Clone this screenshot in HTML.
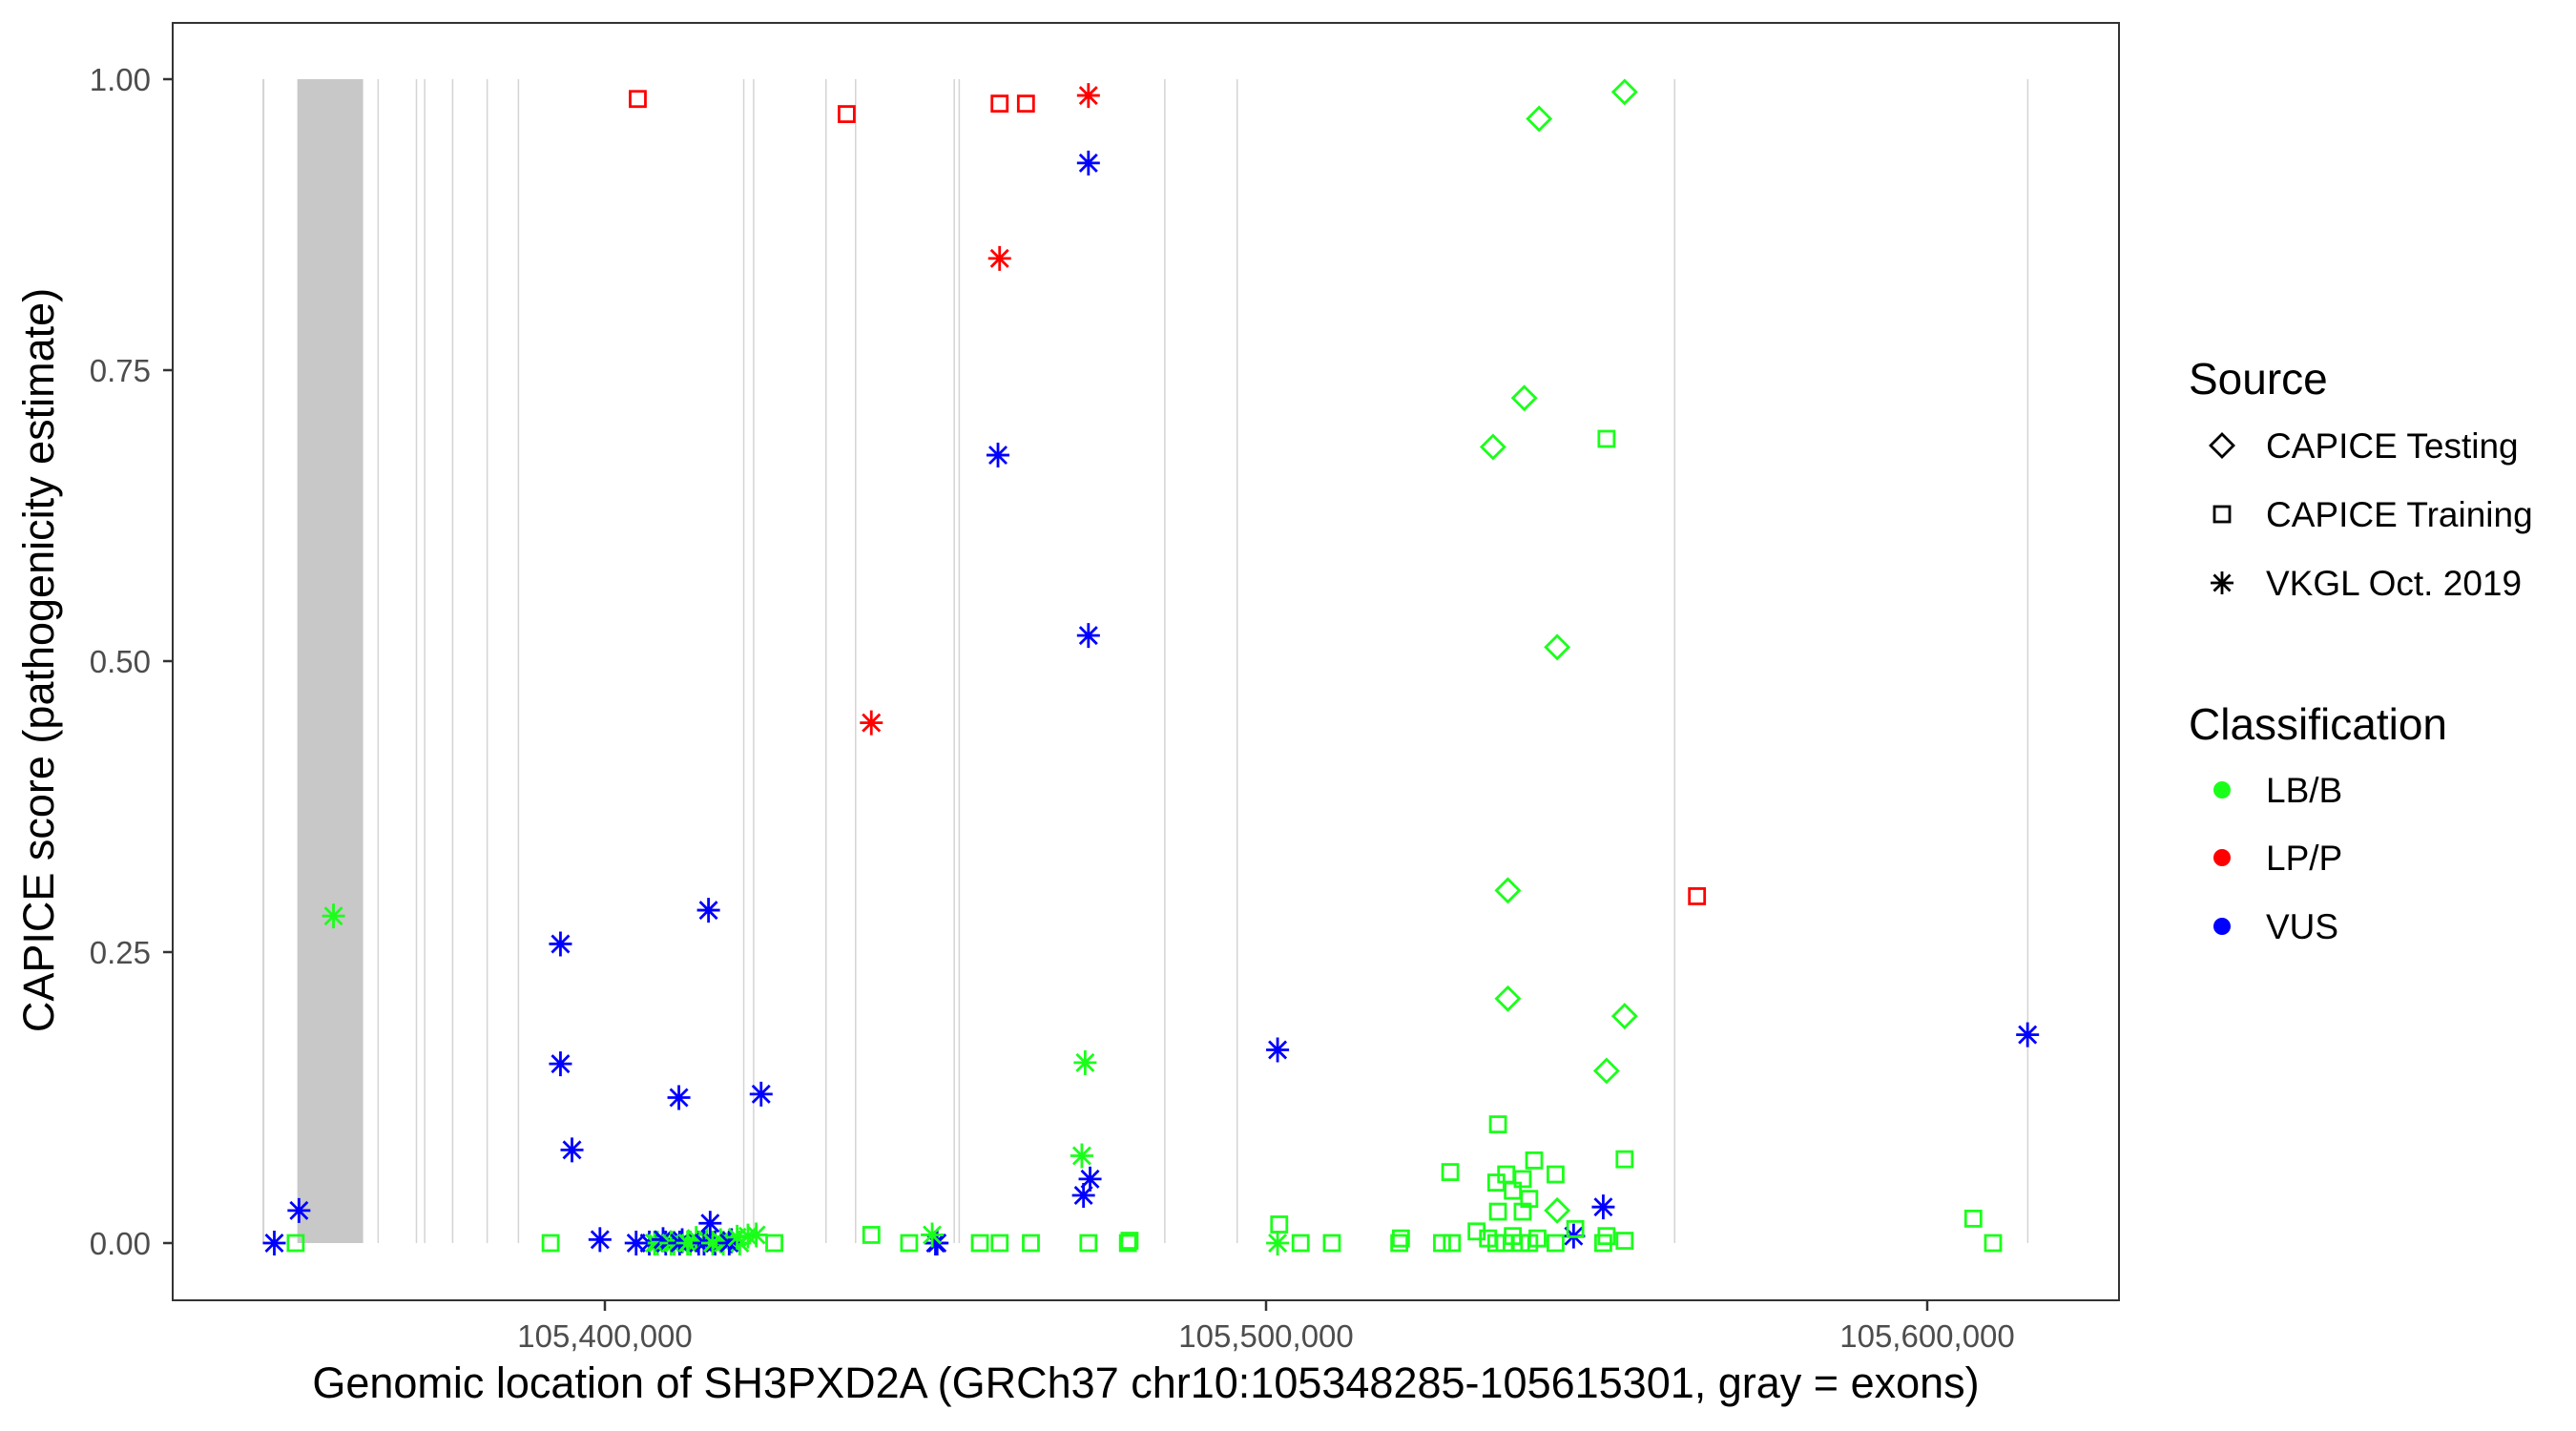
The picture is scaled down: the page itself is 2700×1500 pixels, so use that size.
<!DOCTYPE html>
<html><head><meta charset="utf-8"><style>
html,body{margin:0;padding:0;background:#fff;}
svg{display:block;font-family:"Liberation Sans",sans-serif;}
</style></head><body>
<svg id="chart" width="2700" height="1500" xmlns="http://www.w3.org/2000/svg">
<rect x="0" y="0" width="2700" height="1500" fill="#fff"/>
<g id="exons"></g>
<g id="points"></g>
<rect x="181" y="24" width="2040" height="1339" fill="none" stroke="#333" stroke-width="2"/>
<g id="yaxis"></g>
<g id="xaxis"></g>
<text transform="translate(56,692) rotate(-90)" text-anchor="middle" font-size="45" fill="#000">CAPICE score (pathogenicity estimate)</text>
<text x="1201" y="1465" text-anchor="middle" font-size="45" fill="#000">Genomic location of SH3PXD2A (GRCh37 chr10:105348285-105615301, gray = exons)</text>
<g id="legend">
<text x="2294" y="413" font-size="46">Source</text>
<g><path d="M2329,455 l12,12 l-12,12 l-12,-12z" fill="none" stroke="#000" stroke-width="2.8"/><text x="2375" y="480" font-size="37">CAPICE Testing</text></g>
<g><rect x="2321" y="531" width="16" height="16" fill="none" stroke="#000" stroke-width="2.8"/><text x="2375" y="552" font-size="37">CAPICE Training</text></g>
<g><path d="M2329,599 v24 M2317,611 h24 M2320.5,602.5 l17,17 M2337.5,602.5 l-17,17" stroke="#000" stroke-width="2.8"/><text x="2375" y="624" font-size="37">VKGL Oct. 2019</text></g>
<text x="2294" y="775" font-size="46">Classification</text>
<g><circle cx="2329" cy="828" r="9" fill="#1aff1a"/><text x="2375" y="841" font-size="37">LB/B</text></g>
<g><circle cx="2329" cy="899" r="9" fill="#ff0000"/><text x="2375" y="912" font-size="37">LP/P</text></g>
<g><circle cx="2329" cy="971" r="9" fill="#0000ff"/><text x="2375" y="984" font-size="37">VUS</text></g>
</g>
</svg>
<script>
const exonStart=[105348200,105353483,105365600,105371393,105372637,105376866,105382090,105386816,105420896,105422388,105433333,105437811,105452737,105453483,105484577,105495522,105561692,105615100];
const exonEnd=[105348500,105363433,105365800,105371600,105372850,105377050,105382300,105387000,105421100,105422600,105433500,105438000,105452950,105453700,105484780,105495700,105561900,105615301];
const yTicks=[0,0.25,0.5,0.75,1];
const yTickLabels=["0.00","0.25","0.50","0.75","1.00"];
const xTicks=[105400000,105500000,105600000];
const xTickLabels=["105,400,000","105,500,000","105,600,000"];
const ptPos=[
105406717,105407960,105409204,105410448,105411692,105412935,105414179,105415423,105416667,105417910,105419154,105420398,
105407500,105408800,105410000,105411300,105412500,105413800,105415000,105416300,105417500,105418800,105420000,105421642,
105350000,105353731,105393283,105393283,105395025,105399254,105404726,105411194,105415672,105415920,105423632,105450001,105450249,105459454,105473135,105473135,105473384,105472389,105501743,105546520,105550999,105615177,
105473135,105459702,105440299,
105404975,105436568,105459702,105463683,105565177,
105358955,105472638,105472140,105501743,105422886,105449503,
105554231,105541296,105539057,105534330,105544032,105536569,105536569,105554231,105551497,105544032,
105551497,105535077,105527863,105540549,105554231,105543783,105536320,105534828,105538808,105538808,105535077,105537316,105539803,105606968,105609953,105501990,
105353233,105391791,105425622,105440299,105446021,105456717,105459702,105464429,105473135,105479106,105479355,105505226,105509953,105520151,105520400,105526617,105528109,105531841,105533582,105534828,105536072,105537316,105538560,105539803,105541047,105543783,105546768,105550999,105551497,105554231];
const ptScore=[
0,0,0,0,0.002,0,0,0.003,0,0,0.002,0,
0,0.003,0,0,0,0.004,0,0,0.002,0,0.005,0.006,
0,0.028,0.257,0.154,0.080,0.003,0,0.125,0.286,0.017,0.128,0,0,0.677,0.928,0.522,0.055,0.041,0.166,0.006,0.031,0.179,
0.986,0.846,0.447,
0.983,0.970,0.979,0.979,0.298,
0.281,0.155,0.075,0,0.007,0.007,
0.989,0.966,0.726,0.684,0.512,0.303,0.210,0.195,0.148,0.028,
0.691,0.102,0.061,0.071,0.072,0.059,0.059,0.052,0.055,0.027,0.027,0.045,0.038,0.021,0,0.016,
0,0,0,0.007,0,0,0,0,0,0,0.002,0,0,0,0.004,0,0,0.010,0.004,0,0,0.006,0,0,0.004,0,0.012,0,0.006,0.002];
const ptSource=[
"V","V","V","V","V","V","V","V","V","V","V","V",
"V","V","V","V","V","V","V","V","V","V","V","V",
"V","V","V","V","V","V","V","V","V","V","V","V","V","V","V","V","V","V","V","V","V","V",
"V","V","V",
"R","R","R","R","R",
"V","V","V","V","V","V",
"T","T","T","T","T","T","T","T","T","T",
"R","R","R","R","R","R","R","R","R","R","R","R","R","R","R","R",
"R","R","R","R","R","R","R","R","R","R","R","R","R","R","R","R","R","R","R","R","R","R","R","R","R","R","R","R","R","R"];
const ptClass=[
"U","G","U","G","U","G","U","G","U","G","U","G",
"G","U","G","U","G","G","U","G","G","U","G","G",
"U","U","U","U","U","U","U","U","U","U","U","U","U","U","U","U","U","U","U","U","U","U",
"P","P","P",
"P","P","P","P","P",
"G","G","G","G","G","G",
"G","G","G","G","G","G","G","G","G","G",
"G","G","G","G","G","G","G","G","G","G","G","G","G","G","G","G",
"G","G","G","G","G","G","G","G","G","G","G","G","G","G","G","G","G","G","G","G","G","G","G","G","G","G","G","G","G","G"];

const NS="http://www.w3.org/2000/svg";
function xS(v){return 634+(v-105400000)*0.00693;}
function yS(v){return 1303-v*1220;}
const colorMap={G:"#1aff1a",P:"#ff0000",U:"#0000ff"};

const gEx=document.getElementById('exons');
for(let i=0;i<exonStart.length;i++){
  const r=document.createElementNS(NS,'rect');
  
  
  const x0=xS(exonStart[i]),x1=xS(exonEnd[i]);
  const w=Math.max(x1-x0,1.5);
  r.setAttribute('x',x0);r.setAttribute('width',w);
  r.setAttribute('y',yS(1));r.setAttribute('height',yS(0)-yS(1));
  r.setAttribute('fill',w>5?'#c8c8c8':'#d4d4d4');
  gEx.appendChild(r);
}
const gP=document.getElementById('points');
for(let i=0;i<ptPos.length;i++){
  const cx=xS(ptPos[i]),cy=yS(ptScore[i]),c=colorMap[ptClass[i]];
  let el;
  if(ptSource[i]==="R"){
    el=document.createElementNS(NS,'rect');
    el.setAttribute('x',cx-8);el.setAttribute('y',cy-8);
    el.setAttribute('width',16);el.setAttribute('height',16);
    el.setAttribute('fill','none');
  } else if(ptSource[i]==="T"){
    el=document.createElementNS(NS,'path');
    el.setAttribute('d',`M${cx},${cy-12} l12,12 l-12,12 l-12,-12z`);
    el.setAttribute('fill','none');
  } else {
    el=document.createElementNS(NS,'path');
    el.setAttribute('d',`M${cx},${cy-13} v26 M${cx-12},${cy} h24 M${cx-9},${cy-9} l18,18 M${cx+9},${cy-9} l-18,18`);
  }
  
  
  el.setAttribute('stroke',c);el.setAttribute('stroke-width','2.8');
  gP.appendChild(el);
}
const gY=document.getElementById('yaxis');
for(let i=0;i<yTicks.length;i++){
  const y=yS(yTicks[i]);
  const l=document.createElementNS(NS,'line');
  
  
  l.setAttribute('x1',171);l.setAttribute('x2',181);l.setAttribute('y1',y);l.setAttribute('y2',y);
  l.setAttribute('stroke','#333');l.setAttribute('stroke-width','2.5');
  gY.appendChild(l);
  const t=document.createElementNS(NS,'text');
  
  
  t.setAttribute('x',158);t.setAttribute('y',y+12);t.setAttribute('text-anchor','end');
  t.setAttribute('font-size','33');t.setAttribute('fill','#4d4d4d');
  t.textContent=yTickLabels[i];
  gY.appendChild(t);
}
const gX=document.getElementById('xaxis');
for(let i=0;i<xTicks.length;i++){
  const x=xS(xTicks[i]);
  const l=document.createElementNS(NS,'line');
  
  
  l.setAttribute('x1',x);l.setAttribute('x2',x);l.setAttribute('y1',1363);l.setAttribute('y2',1374);
  l.setAttribute('stroke','#333');l.setAttribute('stroke-width','2.5');
  gX.appendChild(l);
  const t=document.createElementNS(NS,'text');
  
  
  t.setAttribute('x',x);t.setAttribute('y',1412);t.setAttribute('text-anchor','middle');
  t.setAttribute('font-size','33');t.setAttribute('fill','#4d4d4d');
  t.textContent=xTickLabels[i];
  gX.appendChild(t);
}
</script>
</body></html>
